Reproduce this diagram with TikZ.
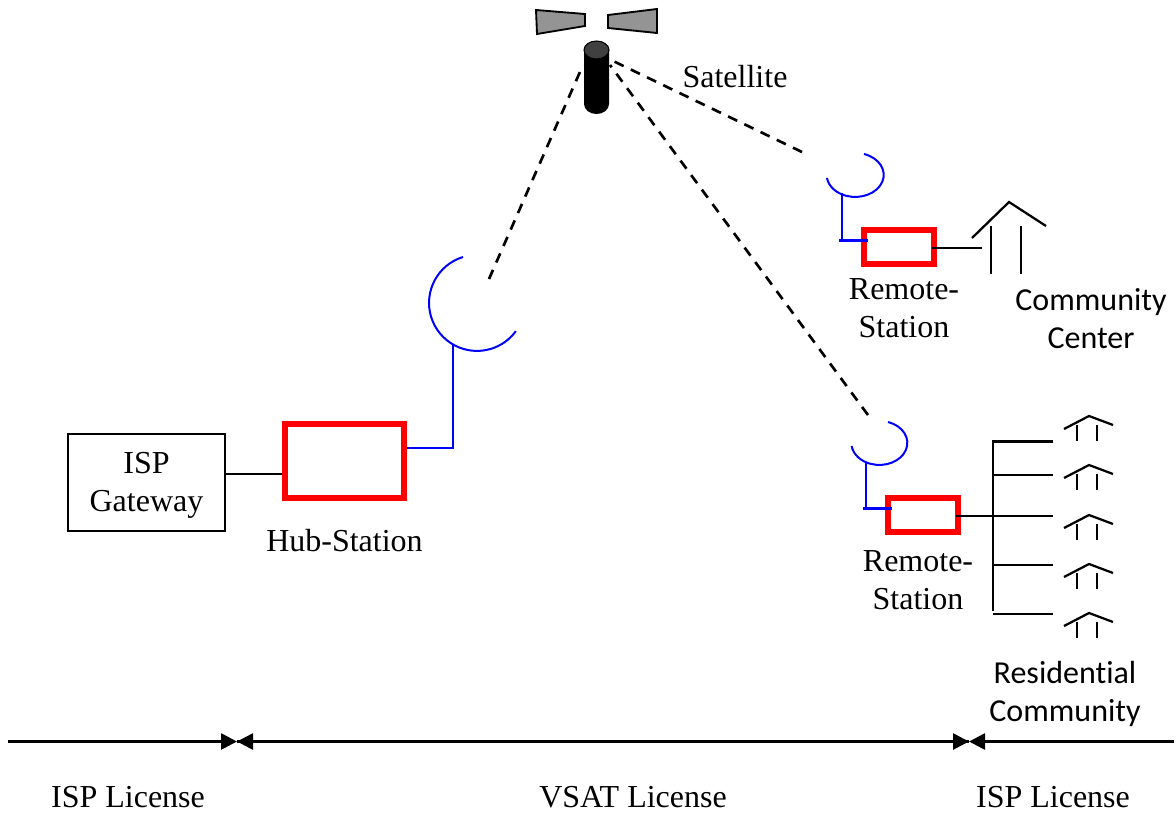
\documentclass[tikz,border=0pt]{standalone}
\usepackage{fontspec}
\setmainfont{Liberation Serif}
\newfontfamily\bodyfont[Ligatures=NoCommon]{Carlito}
\usetikzlibrary{arrows.meta}

\begin{document}
\begin{tikzpicture}[x=0.75pt,y=0.75pt,
    wire/.style={black,line width=1.7pt},
    feed/.style={blue,line width=1.7pt},
    dish/.style={blue,line width=1.5pt},
    beam/.style={black,line width=2pt,dash pattern=on 7.5pt off 6pt},
    license/.style={black,line width=2pt,-{Triangle[length=12pt,width=12pt]}},
    hubbox/.style={draw=red,line width=4.5pt,minimum width=89.25pt,minimum height=55.5pt},
    remotebox/.style={draw=red,line width=4.1pt,minimum width=52.5pt,minimum height=25.5pt},
    panel/.style={fill=black!42,draw=black,line width=1.4pt}]
    \begin{scope}[every node/.style={font=\fontsize{24}{28.5}\selectfont,align=center,inner sep=0pt}]

\useasboundingbox (0,0) rectangle (1176,-814);

% satellite
\coordinate (sat_hub)    at (583,-65);
\coordinate (sat_rem_a)  at (609,-59);
\coordinate (sat_rem_b)  at (610,-65);
\coordinate (hub_end)    at (489,-279);
\coordinate (rem_a_end)  at (802,-152);
\coordinate (rem_b_end)  at (868,-415);

\draw [beam] (hub_end)   -- (sat_hub);
\draw [beam] (rem_a_end) -- (sat_rem_a);
\draw [beam] (rem_b_end) -- (sat_rem_b);

\draw [panel] (536,-10) -- (585,-14) -- (585,-26) -- (537,-34) -- cycle;
\draw [panel] (608,-15) -- (657,-9)  -- (657,-33) -- (608,-28) -- cycle;
\fill [black] (584,-50) -- (584,-104) arc [start angle=180,end angle=360,x radius=12.5,y radius=10] -- (609,-50) -- cycle;
\draw [fill=black!75,line width=0.8pt] (596.5,-50) ellipse [x radius=12.5,y radius=9];

% dishes
\draw [dish] (463,-257) arc [start angle=107,end angle=324,radius=48];
\draw [dish] (864,-154) arc [start angle=72,end angle=-172,x radius=28.5,y radius=22];
\draw [dish] (888,-422) arc [start angle=72,end angle=-172,x radius=28,y radius=22];

% stations
\node (isp_gw)   at (146.5,-482.5) [draw,line width=1.2pt,minimum width=117.75pt,minimum height=72.75pt] {};
\node (hub_stn)  at (344.5,-461)   [hubbox] {};
\node (rem_a)    at (899,-247)     [remotebox] {};
\node (rem_b)    at (923,-515)     [remotebox] {};

\coordinate (gw_hub)     at (250,-474);
\coordinate (hub_feed)   at (453,-448);
\coordinate (hub_foot)   at (453,-345);
\coordinate (rem_a_foot) at (842,-193);
\coordinate (rem_a_feed) at (842,-240.5);
\coordinate (rem_a_lt)   at (839,-240.5);
\coordinate (rem_a_rt)   at (868,-240.5);
\coordinate (rem_b_foot) at (866,-463);
\coordinate (rem_b_feed) at (866,-508.5);
\coordinate (rem_b_lt)   at (863,-508.5);
\coordinate (rem_b_rt)   at (892,-508.5);

\draw [wire] (isp_gw.east |- gw_hub) -- (hub_stn.west |- gw_hub);
\draw [feed] (hub_stn.east |- hub_feed) -- (hub_feed) -- (hub_foot);
\draw [feed] (rem_a_foot) -- (rem_a_feed);
\draw [feed] (rem_a_lt)   -- (rem_a_rt);
\draw [feed] (rem_b_foot) -- (rem_b_feed);
\draw [feed] (rem_b_lt)   -- (rem_b_rt);

% community center
\coordinate (rem_a_out)  at (932,-248);
\coordinate (center_in)  at (982,-248);
\draw [wire] (rem_a_out) -- (center_in);
\draw [wire] (972,-238) -- (1009,-202) -- (1046,-226);
\draw [wire] (991,-226)  -- (991,-274);
\draw [wire] (1021,-226) -- (1021,-274);

% residential community
\coordinate (rem_b_out)  at (956,-516);
\coordinate (res_3)      at (1053,-516);
\coordinate (bus_top)    at (993,-441.5);
\coordinate (bus_bot)    at (993,-611);
\coordinate (res_1)      at (1053,-441.5);
\coordinate (res_2)      at (1053,-475);
\coordinate (res_4)      at (1053,-565);
\coordinate (res_5)      at (1053,-614);
\draw [wire] (rem_b_out) -- (res_3);
\draw [wire] (res_1) -- (bus_top) -- (bus_bot);
\draw [wire] (bus_top |- res_2) -- (res_2);
\draw [wire] (bus_top |- res_4) -- (res_4);
\draw [wire] (bus_top |- res_5) -- (res_5);

\draw [wire] (1064,-429) -- (1089,-416) -- (1113,-425);
\draw [wire] (1077,-425) -- (1077,-441);
\draw [wire] (1097,-425) -- (1097,-441);
\draw [wire] (1064,-478) -- (1089,-465) -- (1113,-474);
\draw [wire] (1077,-474) -- (1077,-490);
\draw [wire] (1097,-474) -- (1097,-490);
\draw [wire] (1064,-528) -- (1089,-515) -- (1113,-524);
\draw [wire] (1077,-524) -- (1077,-540);
\draw [wire] (1097,-524) -- (1097,-540);
\draw [wire] (1064,-577) -- (1089,-564) -- (1113,-573);
\draw [wire] (1077,-573) -- (1077,-589);
\draw [wire] (1097,-573) -- (1097,-589);
\draw [wire] (1064,-626) -- (1089,-613) -- (1113,-622);
\draw [wire] (1077,-622) -- (1077,-638);
\draw [wire] (1097,-622) -- (1097,-638);

% license ranges
\coordinate (lic_start)  at (8,-741.5);
\coordinate (lic_left)   at (237,-741.5);
\coordinate (lic_right)  at (969,-741.5);
\coordinate (lic_end)    at (1174,-741.5);
\draw [license] (lic_start) -- (lic_left);
\draw [license] (lic_left)  -- (lic_right);
\draw [license] (lic_right) -- (lic_left);
\draw [license] (lic_end)   -- (lic_right);

% labels
\node (sat_label)   at (735,-77)    {Satellite};
\node (gw_label)    at (146.5,-485.5) {ISP\\Gateway};
\node (hub_label)   at (344.5,-541) {Hub-Station};
\node (rem_a_label) at (904,-308)   {Remote-\\Station};
\node (rem_b_label) at (918,-580)   {Remote-\\Station};
\node (cen_label)   at (1091,-319)  {\bodyfont Community\\\bodyfont Center};
\node (res_label)   at (1065,-694)  {\bodyfont Residential\\\bodyfont Community};
\node (lic_a_label) at (128,-797)   {ISP License};
\node (lic_b_label) at (633,-797)   {VSAT License};
\node (lic_c_label) at (1053,-797)  {ISP License};

    \end{scope}
\end{tikzpicture}
\end{document}
